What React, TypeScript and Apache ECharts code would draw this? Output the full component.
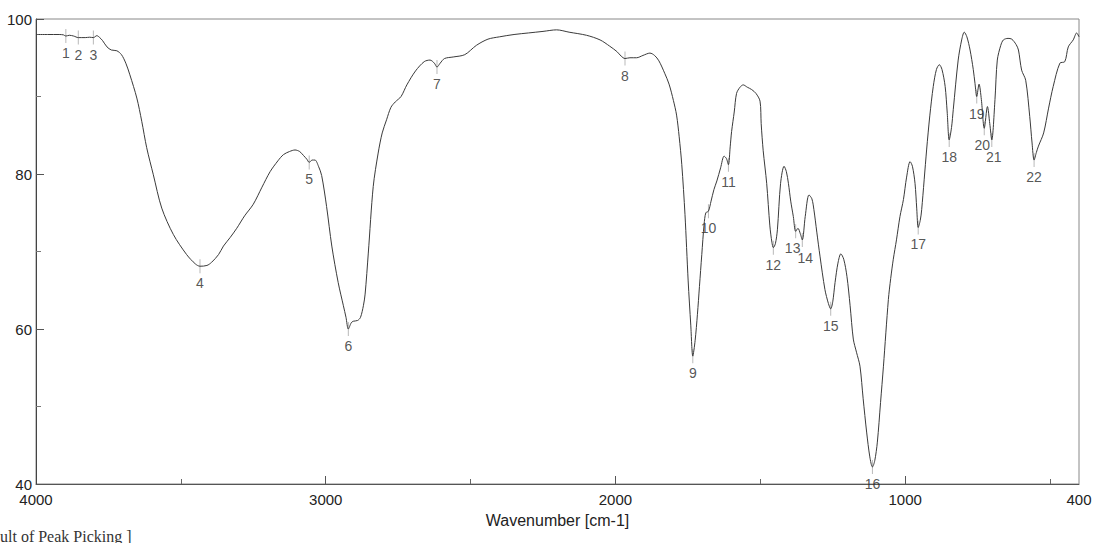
import React, { useEffect, useRef } from "react";
import * as echarts from "echarts";

const wavenumbers = [
  4000, 3960, 3920, 3905, 3897, 3885, 3870, 3854, 3830, 3815, 3802, 3790, 3780, 3770, 3755, 3740, 3721, 3705, 3690, 3676,
  3652, 3635, 3618, 3595, 3566, 3526, 3480, 3450, 3434, 3410, 3394, 3370, 3353, 3330, 3307, 3280, 3250, 3220, 3192, 3165,
  3146, 3125, 3106, 3090, 3077, 3065, 3057, 3047, 3037, 3025, 3014, 2997, 2979, 2957, 2939, 2930, 2922, 2912, 2905, 2890,
  2880, 2870, 2864, 2853, 2836, 2819, 2805, 2790, 2775, 2760, 2740, 2720, 2690, 2660, 2640, 2625, 2616, 2605, 2590, 2560,
  2520, 2480, 2440, 2400, 2350, 2300, 2250, 2203, 2160, 2100, 2053, 2020, 1995, 1980, 1967, 1950, 1927, 1905, 1881, 1865,
  1850, 1830, 1815, 1800, 1789, 1780, 1771, 1760, 1749, 1740, 1733, 1725, 1717, 1710, 1702, 1694, 1688, 1679, 1670, 1660,
  1650, 1637, 1625, 1617, 1610, 1604, 1599, 1590, 1582, 1570, 1559, 1545, 1530, 1515, 1501, 1497, 1490, 1478, 1467, 1460,
  1455, 1448, 1441, 1430, 1418, 1410, 1403, 1395, 1386, 1378, 1370, 1362, 1355, 1345, 1332, 1322, 1315, 1305, 1294, 1277,
  1265, 1257, 1250, 1242, 1232, 1222, 1212, 1201, 1190, 1179, 1168, 1156, 1145, 1133, 1122, 1113, 1105, 1096, 1085, 1075,
  1058, 1050, 1041, 1030, 1018, 1006, 995, 983, 975, 966, 960, 955, 948, 943, 926, 915, 903, 892, 882, 873,
  862, 855, 848, 840, 834, 817, 805, 796, 787, 776, 765, 759, 753, 745, 737, 727, 716, 708, 701, 690,
  682, 670, 661, 645, 632, 617, 609, 598, 584, 570, 562, 555, 547, 540, 522, 505, 489, 466, 449, 437,
  420, 408, 400,
];

const transmittance = [
  98.0, 98.0, 98.0, 97.95, 97.8, 97.9, 97.8, 97.6, 97.6, 97.65, 97.6, 97.85, 97.6, 97.2, 96.4, 96.0, 95.9, 95.4, 94.3, 92.8,
  89.8, 86.8, 83.4, 79.9, 75.6, 72.2, 69.6, 68.4, 68.1, 68.2, 68.6, 69.6, 70.7, 71.8, 73.0, 74.6, 76.1, 78.3, 80.3, 81.7,
  82.5, 82.9, 83.1, 82.9, 82.4, 81.9, 81.5, 81.8, 81.8, 81.0, 79.8, 75.8, 70.7, 66.0, 63.0, 61.5, 60.0, 60.8, 61.0, 61.1,
  61.5, 63.0, 64.5, 69.8, 78.4, 82.7, 85.3, 87.0, 88.6, 89.3, 90.0, 91.5, 93.3, 94.5, 94.7, 94.3, 93.8, 94.3, 94.9, 95.1,
  95.4, 96.6, 97.4, 97.7, 98.0, 98.2, 98.4, 98.6, 98.3, 97.9, 97.3, 96.5, 95.8, 95.2, 94.9, 95.0, 95.0, 95.3, 95.6, 95.3,
  94.6, 93.0, 91.6, 89.5, 87.6, 84.8, 81.2, 74.8, 66.2, 60.5, 56.5, 58.5, 61.9, 65.5, 69.6, 73.5, 75.0, 75.2, 76.5, 78.0,
  79.1, 80.8, 82.3, 82.0, 81.2, 83.5, 85.5, 88.0, 90.4, 91.2, 91.5, 91.2, 90.9, 90.4, 89.4, 86.5, 83.0, 78.8, 73.3, 71.2,
  70.5, 71.0, 72.8, 78.8, 81.0, 80.3, 78.8, 76.5, 74.5, 72.6, 73.0, 72.3, 71.5, 74.5, 77.3, 76.8, 75.4, 72.5, 69.4, 65.1,
  63.3, 62.6, 63.5, 66.0, 68.5, 69.7, 69.0, 66.8, 63.0, 58.7, 57.0, 55.2, 51.0, 46.7, 43.5, 42.2, 43.0, 45.4, 50.5, 55.2,
  63.8, 66.5, 69.0, 71.5, 74.5, 76.7, 79.6, 81.6, 81.0, 78.8, 75.5, 73.1, 74.0, 75.4, 83.1, 87.5, 91.3, 93.5, 94.1, 93.5,
  91.3, 88.0, 84.4, 86.0, 88.3, 94.7, 97.3, 98.3, 97.7, 96.0, 93.5, 91.7, 90.0, 91.6, 89.6, 85.9, 88.7, 86.5, 84.4, 89.6,
  94.7, 96.6, 97.3, 97.5, 97.4, 96.7, 96.0, 93.4, 92.1, 87.4, 84.0, 81.8, 82.8, 83.6, 85.3, 88.5, 91.3, 94.3, 94.5, 96.4,
  97.3, 98.2, 97.7,
];

const peakNames = ["1", "2", "3", "4", "5", "6", "7", "8", "9", "10", "11", "12", "13", "14", "15", "16", "17", "18", "19", "20", "21", "22"];
const peakWn = [3897, 3854, 3802, 3434, 3057, 2922, 2616, 1967, 1733, 1679, 1610, 1455, 1378, 1355, 1257, 1113, 955, 848, 753, 727, 701, 555];
const peakT = [97.8, 97.6, 97.6, 68.1, 81.5, 60.0, 93.8, 94.9, 56.5, 75.2, 81.2, 70.5, 72.6, 71.5, 62.6, 42.2, 73.1, 84.4, 90.0, 85.9, 84.4, 81.8];

const xMajorTicks = [1000, 2000, 3000];
const xMinorTicks = [500, 1500, 2500, 3500];
const xTickLabels = [4000, 3000, 2000, 1000, 400];

const FONT = "'Liberation Sans', Arial, sans-serif";

// small label nudges for the crowded pairs (13/14, 20/21)
const labelNudge: Record<string, [number, number]> = {
  "13": [-3, 0],
  "14": [3, 1],
  "20": [-2, 0],
  "21": [2, 0],
};

export default function App() {
  const ref = useRef<HTMLDivElement>(null);

  useEffect(() => {
    if (!ref.current) return;
    const chart = echarts.init(ref.current, null, { renderer: "svg" });
    const lineData = wavenumbers.map((w, i) => [w, transmittance[i]]);
    const peakData = peakWn.map((w, i) => {
      const nm = peakNames[i];
      const d: any = { value: [w, peakT[i]], name: nm };
      if (labelNudge[nm]) d.label = { offset: labelNudge[nm] };
      return d;
    });

    chart.setOption({
      animation: false,
      backgroundColor: "#ffffff",
      grid: {
        left: 36,
        top: 19,
        width: 1043,
        height: 465,
        show: true,
        borderColor: "#888",
        borderWidth: 1,
        backgroundColor: "transparent",
      },
      xAxis: [
        {
          type: "value",
          min: 400,
          max: 4000,
          inverse: true,
          position: "bottom",
          axisLine: { show: true, lineStyle: { color: "#555", width: 1 } },
          axisTick: {
            show: true,
            inside: true,
            length: 8,
            customValues: xMajorTicks,
            lineStyle: { color: "#555" },
          },
          axisLabel: {
            customValues: xTickLabels,
            formatter: (v: number) => String(v),
            fontSize: 15,
            color: "#222",
            margin: 8,
            fontFamily: FONT,
            hideOverlap: false,
          },
          splitLine: { show: false },
          name: "Wavenumber [cm-1]",
          nameLocation: "middle",
          nameGap: 28,
          nameTextStyle: { fontSize: 16, color: "#222", fontFamily: FONT },
        },
        {
          type: "value",
          min: 400,
          max: 4000,
          inverse: true,
          position: "bottom",
          axisLine: { show: false },
          axisTick: {
            show: true,
            inside: true,
            length: 5,
            customValues: xMinorTicks,
            lineStyle: { color: "#666" },
          },
          axisLabel: { show: false },
          splitLine: { show: false },
        },
      ],
      yAxis: {
        type: "value",
        min: 40,
        max: 100,
        interval: 20,
        axisLine: { show: true, lineStyle: { color: "#444", width: 1 } },
        axisTick: { show: true, inside: true, length: 8, lineStyle: { color: "#555" } },
        minorTick: { show: true, splitNumber: 2, length: 5, lineStyle: { color: "#777" } },
        axisLabel: {
          fontSize: 15,
          color: "#222",
          margin: 4,
          fontFamily: FONT,
          formatter: (v: number) => String(v),
        },
        splitLine: { show: false },
      },
      series: [
        {
          type: "scatter",
          xAxisIndex: 0,
          data: peakData,
          symbol: "rect",
          symbolSize: [1, 14],
          itemStyle: { color: "#a8a8a8" },
          z: 2,
          label: {
            show: true,
            position: "bottom",
            distance: 3,
            formatter: (p: any) => p.name,
            fontSize: 14,
            color: "#2a2a2a",
            textBorderWidth: 0,
            fontFamily: FONT,
          },
          emphasis: { disabled: true },
        },
        {
          type: "line",
          xAxisIndex: 0,
          data: lineData,
          showSymbol: false,
          smooth: 0.3,
          lineStyle: { color: "#3a3a3a", width: 1 },
          z: 3,
          emphasis: { disabled: true },
        },
      ],
      graphic: [
        {
          type: "text",
          left: 0,
          top: 528,
          style: {
            text: "ult of Peak Picking ]",
            font: "16px 'Liberation Serif', 'Times New Roman', serif",
            fill: "#333",
          },
        },
      ],
    });

    return () => chart.dispose();
  }, []);

  return (
    <div
      ref={ref}
      style={{ position: "fixed", left: 0, top: 0, width: 1098, height: 543, background: "#fff" }}
    />
  );
}
